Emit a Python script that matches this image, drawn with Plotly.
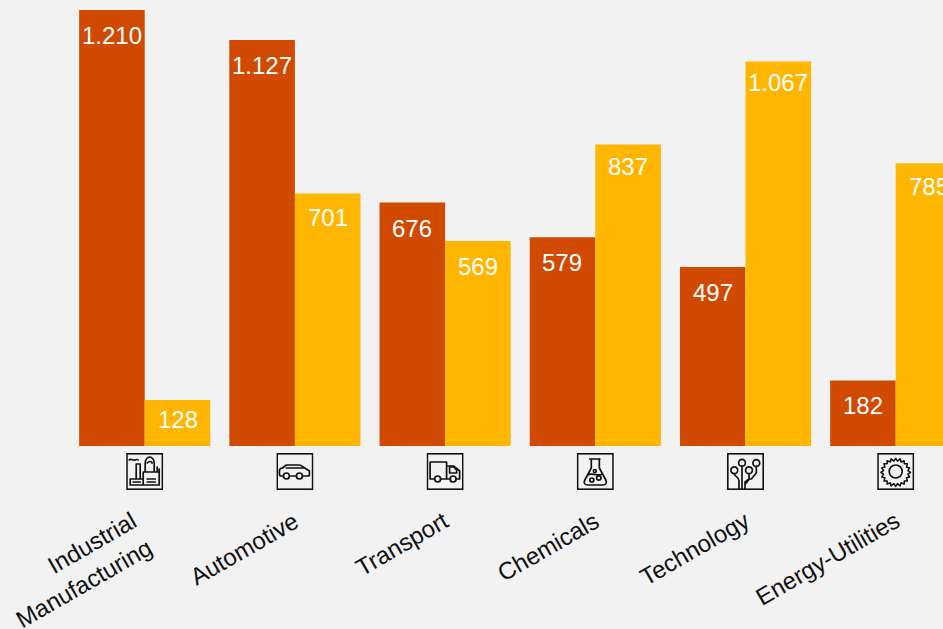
import base64
import plotly.graph_objects as go

categories = ["Industrial<br>Manufacturing", "Automotive", "Transport", "Chemicals", "Technology", "Energy-Utilities"]
series_a = [1210, 1127, 676, 579, 497, 182]
series_b = [128, 701, 569, 837, 1067, 785]

ORANGE = "#D04A02"
GOLD = "#FFB600"
BG = "#F2F2F2"
W, H = 943, 629
BASE_PX = 446
PX_PER_UNIT = 436 / 1210
BAND = 150.2
FIRST_CENTER = 144.7
OFFSET = 0.2185
# Distance in pixels from each bar's top to the middle of its label.
DROP_A = [25, 26, 26, 25, 26, 25]
DROP_B = [20, 24, 26, 22, 21, 23]

ICON_BODY = {
    "factory": '<path d="M4 32V26h13v6M17 32V19h16v13zM4 32h29M10 26V11h4v15M3 7c2-2 4 1 6 0s2-1 3 0'
               'M19 19V10c0-3 2-6 4.500-6S28 7 28 10v9M21 10c2-2 4-2 5 0M31 19v-5M33 19v-3'
               'M7 29h7M21 26h8M21 29h8" stroke-width="1.700"/>',
    "car": '<path d="M7 23H5c-1 0-2-1-2-2v-3c0-2 1-3 3-3l4-3h13c1 0 2 .5 3 1.500l7 4.500v4c0 1-1 1-2 1h-5M13 23h7M10 15h17"/>'
           '<circle cx="10" cy="23" r="3"/><circle cx="23" cy="23" r="3"/>',
    "truck": '<path d="M8 26H3.500V9H20v17h-6M20 13h7l6 5v8h-3.500M20 26h4"/><path d="M23 14h4l3 3v3h-7z"/>'
             '<circle cx="11" cy="26" r="3"/><circle cx="26.500" cy="26" r="3"/>',
    "flask": '<path d="M13 6h10M14.500 6v9L8 27c-1.500 3 0 5 3 5h15c3 0 4.500-2 3-5l-6.500-12V6M11 22c4-3 8 2 15-1"/>'
             '<circle cx="15" cy="27" r="2"/><circle cx="22" cy="25" r="2.200"/><circle cx="18" cy="18" r="1.500"/>',
    "circuit": '<circle cx="7.300" cy="17.300" r="3.400"/><circle cx="15" cy="9.700" r="3.400"/>'
               '<circle cx="22" cy="17.300" r="3.400"/><circle cx="29.300" cy="10" r="3.400"/>'
               '<path d="M7.300 20.700c0 3 4.700 3 4.700 7V36M15 13.100V36M22 20.700V26l-4 3v7M29.300 13.400V20l-5 6h-2l-3 4"/>',
    "gear": '<g transform="translate(18.500 18.500) scale(0.9) translate(-18.500 -18.500)"><path d="M18.500 4l2 3 3-2.500 1 3.500 3.500-1.500 0 3.500 3.500 0-1 3.500 3.500 1-2 3 3 2-3 2 2 3-3.500 1 1 3.500-3.500 0 0 3.500-3.500-1.500-1 3.500-3-2.500-2 3-2-3-3 2.500-1-3.500-3.500 1.500 0-3.500-3.500 0 1-3.500-3.500-1 2-3-3-2 3-2-2-3 3.500-1-1-3.500 3.500 0 0-3.500 3.500 1.500 1-3.500 3 2.500z"/></g>'
            '<circle cx="18.500" cy="18.500" r="6.500"/>',
}
icon_names = ["factory", "car", "truck", "flask", "circuit", "gear"]


def icon_uri(name):
    svg = ('<svg xmlns="http://www.w3.org/2000/svg" viewBox="0 0 37 37" width="37" height="37">'
           '<g fill="none" stroke="#111" stroke-width="1.700" stroke-linejoin="round" stroke-linecap="round">'
           + ICON_BODY[name] +
           '</g><rect x="0.750" y="0.750" width="35.500" height="35.500" fill="none" stroke="#111" stroke-width="1.700"/></svg>')
    return "data:image/svg+xml;base64," + base64.b64encode(svg.encode()).decode()


def fmt(v):
    return f"{v:,}".replace(",", ".")


xs = list(range(len(categories)))
fig = go.Figure()
fig.add_bar(x=xs, y=series_a, marker_color=ORANGE, marker_line_width=0)
fig.add_bar(x=xs, y=series_b, marker_color=GOLD, marker_line_width=0)

annotations = []
for sign, vals, drops in ((-1, series_a, DROP_A), (1, series_b, DROP_B)):
    for i, v, drop in zip(xs, vals, drops):
        annotations.append(dict(x=i + sign * OFFSET, y=v, xref="x", yref="y", text=fmt(v), showarrow=False,
                                yshift=-drop, yanchor="middle", xanchor="center",
                                font=dict(color="white", size=24, family="Liberation Sans")))

for i, c in zip(xs, categories):
    annotations.append(dict(x=i, y=0, xref="x", yref="y", text=c, showarrow=False, textangle=-30,
                            xanchor="right", yanchor="top", xshift=14 if "<br>" in c else 11, yshift=-58,
                            align="right", font=dict(size=24, color="#111", family="Liberation Sans")))

images = [dict(source=icon_uri(n), xref="x", yref="y", x=i, y=-25.5 / PX_PER_UNIT,
               sizex=37 / BAND, sizey=37 / PX_PER_UNIT, xanchor="center", yanchor="middle",
               sizing="stretch", layer="above") for i, n in zip(xs, icon_names)]

fig.update_layout(
    width=W, height=H, autosize=False,
    margin=dict(l=0, r=0, t=0, b=0, pad=0),
    paper_bgcolor=BG, plot_bgcolor=BG,
    barmode="group", bargap=0.127, bargroupgap=0,
    showlegend=False,
    font=dict(family="Liberation Sans", color="#111"),
    annotations=annotations,
    images=images,
    xaxis=dict(range=[-FIRST_CENTER / BAND, (W - FIRST_CENTER) / BAND], showgrid=False, zeroline=False,
               showline=False, ticks="", showticklabels=False, fixedrange=True),
    yaxis=dict(range=[(BASE_PX - H) / PX_PER_UNIT, BASE_PX / PX_PER_UNIT], showgrid=False, zeroline=False,
               showline=False, ticks="", showticklabels=False, fixedrange=True),
)

fig.write_html("out.html", config=dict(displayModeBar=False),
               post_script="document.body.style.margin='0';document.body.style.overflow='hidden';document.body.style.background='#F2F2F2';")
